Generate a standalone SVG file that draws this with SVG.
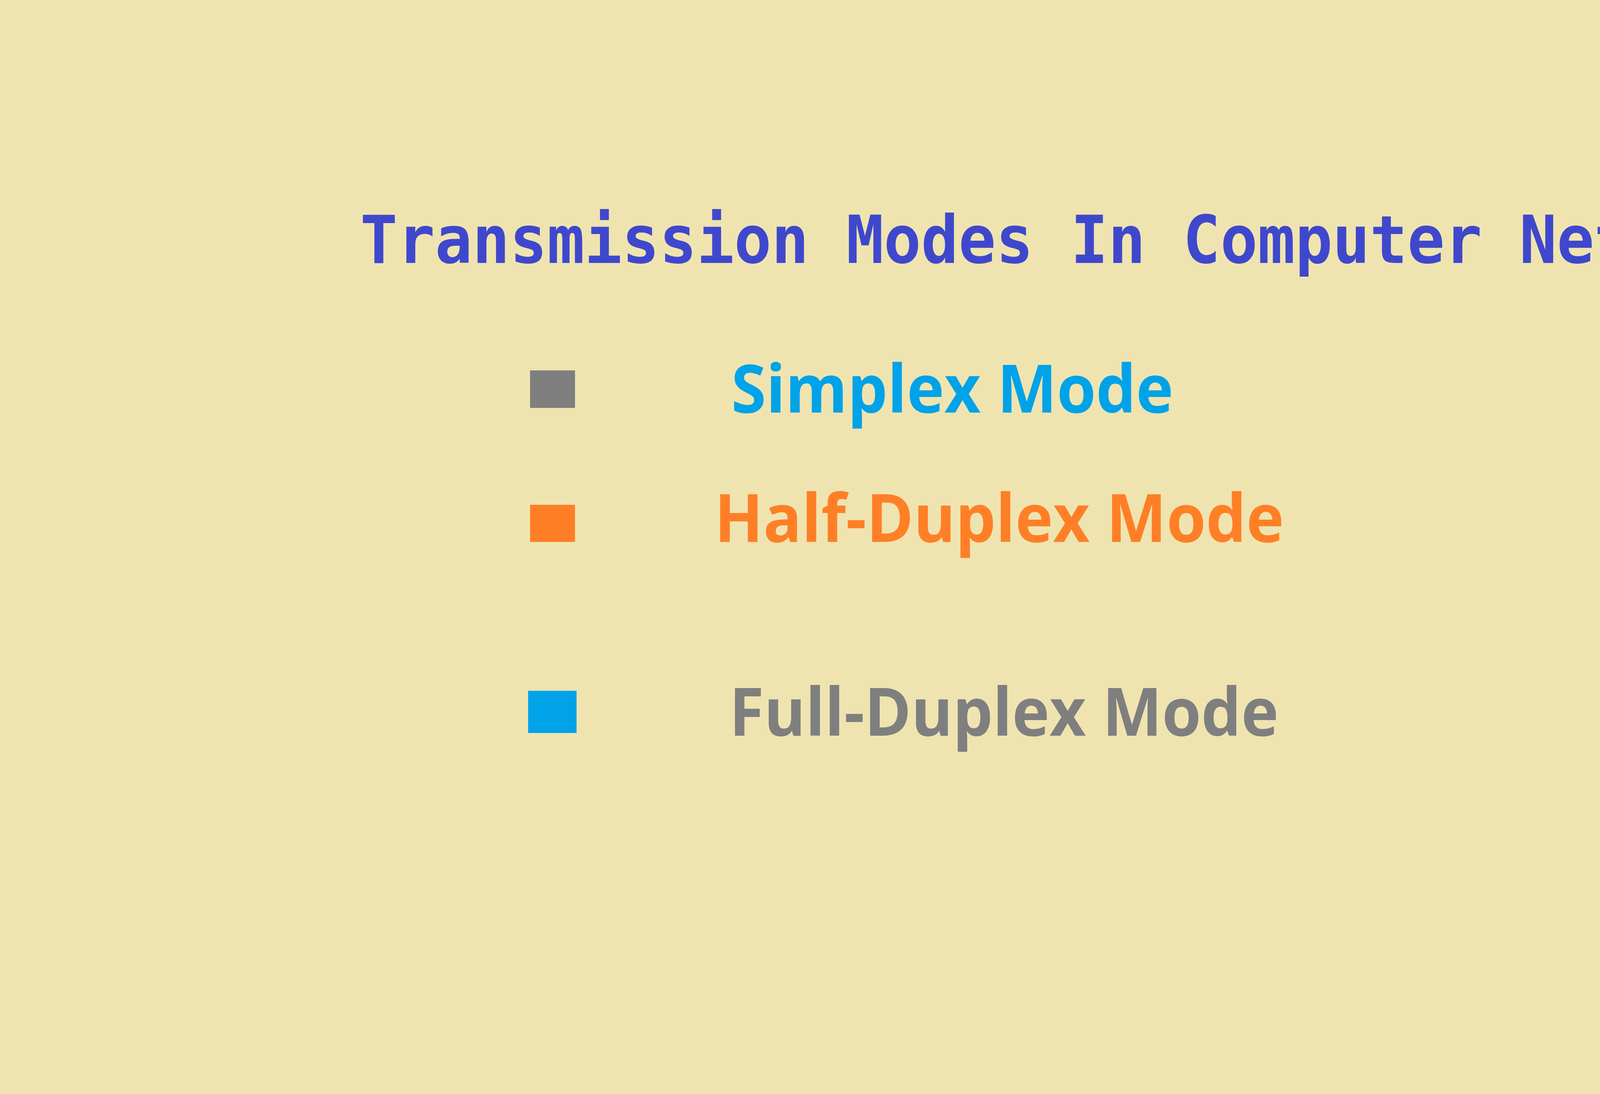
<svg xmlns="http://www.w3.org/2000/svg" width="5200" height="2800" viewBox="0 0 5200 2800">
<style>
.title{font-family:"DejaVu Sans Mono","Liberation Mono",monospace;font-weight:bold;font-size:170px;fill:#3F48CC}
.lbl{font-family:"Open Sans","Noto Sans","Liberation Sans",sans-serif;font-weight:bold;font-size:170px}
</style>
<rect width="5200" height="2800" fill="#EFE4B0"/>
<g id="title"><text class="title" x="922" y="673" textLength="3638" lengthAdjust="spacingAndGlyphs">Transmission Modes In Computer Network</text></g>
<g id="simplex">
<rect x="1357" y="948" width="115" height="96" fill="#7F7F7F"/>
<text class="lbl" x="1872" y="1056" fill="#00A2E8" textLength="1132" lengthAdjust="spacingAndGlyphs">Simplex Mode</text>
</g>
<g id="half-duplex">
<rect x="1357" y="1292" width="115" height="95" fill="#FF7F27"/>
<text class="lbl" x="1829" y="1387" fill="#FF7F27" textLength="1458" lengthAdjust="spacingAndGlyphs">Half-Duplex Mode</text>
</g>
<g id="full-duplex">
<rect x="1352" y="1768" width="124" height="108" fill="#00A2E8"/>
<text class="lbl" x="1867" y="1883" fill="#7F7F7F" textLength="1406" lengthAdjust="spacingAndGlyphs">Full-Duplex Mode</text>
</g>
<g id="connectors"/>
</svg>
